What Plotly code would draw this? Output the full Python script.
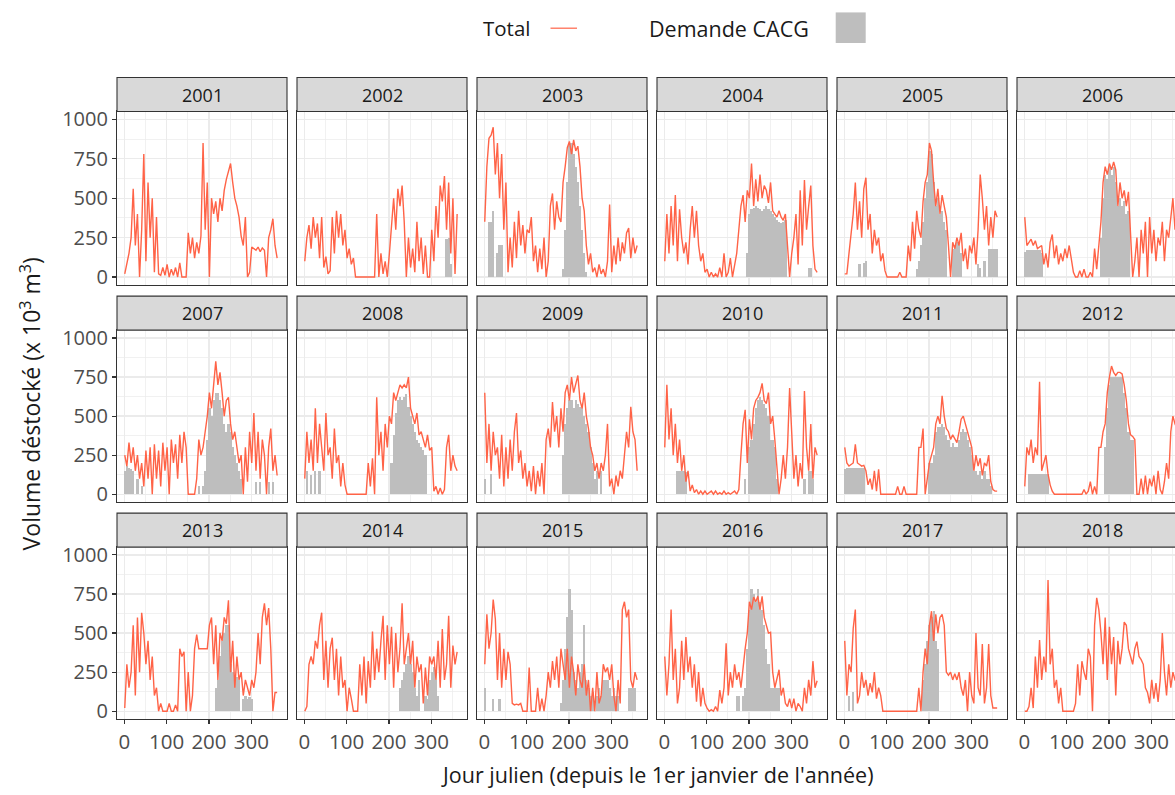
import plotly.graph_objects as go

# sampling days (every 5 days of the year)
DAYS = list(range(1, 366, 5))
YEARS = list(range(2001, 2019))

TOTAL_2001 = [20, 80, 150, 250, 560, 200, 400, 0, 300, 780, 100, 600,
              250, 500, 30, 380, 20, 10, 60, 10, 80, 0, 50, 10,
              60, 0, 90, 0, 0, 0, 280, 150, 250, 120, 220, 150,
              260, 850, 300, 600, 0, 500, 400, 480, 350, 500, 420, 550,
              620, 680, 720, 600, 500, 450, 380, 260, 200, 380, 0, 30,
              190, 180, 170, 190, 160, 185, 170, 0, 250, 300, 370, 200,
              120]
TOTAL_2002 = [100, 250, 330, 180, 380, 250, 340, 120, 380, 60, 130, 20,
              40, 380, 150, 420, 250, 400, 200, 300, 120, 180, 80, 120,
              0, 0, 0, 0, 0, 0, 0, 0, 0, 0, 400, 0,
              150, 20, 100, 0, 150, 350, 500, 300, 560, 450, 580, 350,
              0, 250, 60, 180, 30, 350, 100, 250, 20, 200, 0, 0,
              300, 100, 450, 250, 580, 480, 640, 300, 600, 150, 500, 20,
              400]
TOTAL_2003 = [350, 700, 880, 900, 950, 650, 850, 500, 780, 300, 600, 30,
              250, 60, 350, 120, 420, 200, 330, 150, 300, 280, 380, 100,
              200, 30, 180, 50, 250, 0, 100, 450, 530, 300, 480, 380,
              350, 600, 700, 820, 860, 780, 870, 800, 830, 700, 500, 420,
              200, 80, 150, 30, 60, 0, 80, 20, 50, 0, 100, 460,
              30, 200, 80, 250, 100, 220, 150, 280, 310, 120, 250, 150,
              200]
TOTAL_2004 = [100, 400, 150, 450, 200, 520, 100, 430, 250, 150, 220, 80,
              300, 450, 250, 420, 200, 100, 150, 30, 50, 0, 30, 0,
              20, 0, 60, 0, 150, 0, 30, 120, 0, 80, 150, 300,
              450, 520, 350, 550, 500, 720, 450, 620, 480, 650, 500, 580,
              550, 470, 600, 420, 400, 380, 420, 380, 360, 400, 200, 0,
              150, 250, 400, 80, 550, 200, 615, 300, 450, 580, 200, 50,
              30]
TOTAL_2005 = [20, 20, 150, 280, 400, 600, 300, 480, 250, 560, 630, 300,
              400, 150, 300, 200, 250, 100, 150, 40, 0, 0, 0, 0,
              0, 0, 30, 0, 0, 0, 200, 100, 350, 180, 420, 300,
              250, 480, 600, 650, 850, 800, 600, 450, 560, 400, 520, 450,
              380, 200, 0, 220, 180, 250, 200, 280, 100, 180, 50, 200,
              150, 250, 80, 300, 650, 500, 300, 450, 200, 380, 250, 420,
              380]
TOTAL_2006 = [380, 200, 220, 240, 200, 230, 180, 190, 200, 80, 150, 60,
              220, 270, 120, 200, 80, 150, 100, 180, 120, 200, 100, 30,
              0, 0, 40, 0, 50, 0, 0, 30, 0, 180, 50, 200,
              350, 600, 700, 650, 720, 680, 730, 680, 450, 600, 500, 550,
              450, 540, 300, 0, 100, 250, 0, 300, 150, 350, 0, 380,
              150, 300, 100, 250, 200, 350, 100, 300, 250, 400, 500, 300,
              400]
TOTAL_2007 = [250, 180, 330, 200, 300, 150, 250, 100, 200, 50, 280, 100,
              300, 0, 320, 100, 280, 50, 330, 150, 300, 0, 350, 200,
              320, 100, 380, 200, 400, 300, 0, 0, 0, 0, 100, 350,
              250, 300, 400, 500, 650, 550, 700, 850, 700, 780, 650, 500,
              600, 620, 450, 350, 400, 300, 200, 250, 0, 300, 80, 400,
              200, 520, 150, 400, 100, 350, 250, 0, 300, 420, 150, 250,
              120]
TOTAL_2008 = [100, 400, 200, 350, 150, 550, 200, 450, 300, 150, 520, 250,
              300, 100, 420, 200, 250, 50, 200, 60, 0, 0, 0, 0,
              0, 0, 0, 0, 0, 0, 200, 50, 230, 0, 620, 250,
              400, 150, 450, 300, 500, 450, 650, 600, 650, 700, 680, 700,
              680, 750, 550, 500, 450, 520, 380, 400, 350, 300, 380, 280,
              300, 20, 50, 0, 40, 0, 30, 300, 380, 150, 250, 180,
              150]
TOTAL_2009 = [650, 200, 450, 150, 400, 250, 300, 100, 380, 50, 300, 100,
              350, 150, 400, 520, 200, 280, 100, 200, 50, 150, 20, 180,
              0, 150, 50, 200, 0, 350, 420, 300, 590, 400, 500, 300,
              550, 400, 650, 700, 600, 750, 650, 700, 760, 600, 550, 650,
              500, 420, 300, 250, 150, 200, 100, 200, 150, 250, 450, 50,
              100, 0, 120, 50, 150, 100, 250, 400, 300, 560, 400, 350,
              150]
TOTAL_2010 = [300, 700, 350, 550, 250, 450, 200, 350, 150, 250, 80, 150,
              20, 60, 10, 30, 0, 20, 0, 20, 0, 10, 20, 0,
              20, 0, 10, 0, 20, 0, 10, 0, 10, 20, 0, 30,
              250, 450, 540, 200, 480, 350, 550, 600, 620, 650, 710, 600,
              580, 650, 450, 500, 350, 200, 0, 100, 250, 100, 300, 680,
              400, 100, 250, 50, 200, 100, 660, 300, 150, 450, 100, 300,
              250]
TOTAL_2011 = [300, 200, 180, 190, 200, 320, 200, 190, 180, 185, 150, 60,
              100, 30, 150, 20, 160, 0, 0, 0, 0, 0, 0, 0,
              0, 50, 0, 0, 50, 0, 0, 0, 0, 0, 0, 300,
              300, 420, 0, 100, 200, 250, 300, 450, 500, 450, 630, 500,
              420, 400, 350, 380, 350, 330, 400, 480, 500, 450, 400, 350,
              300, 150, 250, 180, 230, 120, 200, 180, 250, 80, 30, 20,
              20]
TOTAL_2012 = [50, 300, 250, 350, 200, 300, 250, 720, 150, 200, 250, 130,
              60, 20, 0, 0, 0, 0, 0, 0, 0, 0, 0, 0,
              0, 0, 0, 0, 30, 0, 20, 80, 0, 50, 0, 300,
              300, 400, 450, 650, 750, 820, 780, 760, 780, 780, 770, 700,
              600, 450, 380, 370, 350, 0, 0, 100, 0, 120, 0, 100,
              50, 120, 0, 150, 30, 0, 80, 200, 100, 400, 500, 450,
              420]
TOTAL_2013 = [20, 300, 150, 250, 550, 100, 600, 250, 630, 500, 300, 450,
              200, 350, 100, 150, 0, 50, 0, 0, 0, 50, 0, 0,
              40, 0, 400, 350, 380, 0, 250, 0, 100, 400, 490, 400,
              400, 400, 400, 400, 550, 600, 300, 550, 200, 500, 450, 600,
              560, 710, 250, 450, 150, 350, 200, 250, 100, 200, 150, 100,
              200, 150, 250, 500, 300, 600, 690, 550, 660, 400, 0, 120,
              120]
TOTAL_2014 = [0, 30, 300, 350, 300, 450, 400, 550, 630, 200, 450, 150,
              400, 470, 200, 400, 100, 350, 150, 200, 0, 150, 80, 0,
              0, 0, 300, 100, 350, 50, 320, 150, 510, 200, 400, 250,
              450, 610, 200, 550, 300, 540, 150, 500, 250, 400, 690, 300,
              400, 500, 300, 450, 150, 350, 250, 300, 50, 280, 100, 350,
              300, 350, 200, 450, 150, 525, 200, 300, 610, 150, 420, 300,
              380]
TOTAL_2015 = [300, 620, 400, 500, 715, 590, 200, 500, 150, 400, 200, 380,
              300, 50, 40, 45, 40, 50, 0, 0, 0, 280, 0, 0,
              0, 150, 0, 80, 0, 100, 250, 150, 320, 200, 350, 150,
              400, 300, 200, 400, 150, 350, 250, 100, 300, 200, 150, 300,
              100, 200, 0, 150, 0, 250, 50, 100, 300, 250, 280, 200,
              300, 100, 0, 200, 50, 650, 700, 600, 650, 200, 150, 250,
              200]
TOTAL_2016 = [350, 100, 300, 650, 200, 400, 50, 150, 450, 200, 475, 250,
              350, 150, 300, 60, 250, 30, 150, 50, 20, 0, 10, 0,
              30, 0, 135, 50, 150, 435, 100, 250, 150, 300, 200, 250,
              150, 300, 400, 500, 700, 650, 730, 700, 735, 650, 735, 600,
              550, 500, 505, 250, 150, 200, 265, 100, 150, 50, 30, 80,
              20, 80, 0, 50, 30, 0, 150, 50, 200, 100, 320, 150,
              195]
TOTAL_2017 = [450, 100, 300, 250, 530, 650, 50, 100, 250, 150, 200, 100,
              180, 120, 250, 80, 150, 100, 0, 0, 0, 0, 0, 0,
              0, 0, 0, 0, 0, 0, 0, 0, 0, 0, 0, 150,
              0, 250, 400, 300, 550, 640, 450, 620, 500, 600, 620, 550,
              250, 230, 250, 200, 240, 200, 250, 150, 100, 200, 0, 250,
              100, 50, 500, 150, 100, 430, 50, 150, 430, 100, 20, 20,
              20]
TOTAL_2018 = [0, 0, 30, 150, 20, 350, 150, 455, 200, 350, 250, 840,
              300, 400, 150, 200, 50, 150, 0, 0, 0, 0, 0, 0,
              50, 300, 100, 320, 250, 200, 400, 350, 0, 550, 725, 650,
              500, 300, 600, 200, 540, 300, 475, 100, 450, 300, 400, 570,
              550, 400, 350, 300, 400, 445, 350, 330, 300, 150, 120, 50,
              200, 80, 180, 60, 200, 500, 250, 100, 300, 150, 250, 200,
              200]

DEMANDE_2001 = [0, 0, 0, 0, 0, 0, 0, 0, 0, 0, 0, 0,
                0, 0, 0, 0, 0, 0, 0, 0, 0, 0, 0, 0,
                0, 0, 0, 0, 0, 0, 0, 0, 0, 0, 0, 0,
                0, 0, 0, 0, 0, 0, 0, 0, 0, 0, 0, 0,
                0, 0, 0, 0, 0, 0, 0, 0, 0, 0, 0, 0,
                0, 0, 0, 0, 0, 0, 0, 0, 0, 0, 0, 0,
                0]
DEMANDE_2002 = [0, 0, 0, 0, 0, 0, 0, 0, 0, 0, 0, 0,
                0, 0, 0, 0, 0, 0, 0, 0, 0, 0, 0, 0,
                0, 0, 0, 0, 0, 0, 0, 0, 0, 0, 0, 0,
                0, 0, 0, 0, 0, 0, 0, 0, 0, 0, 0, 0,
                0, 0, 0, 0, 0, 0, 0, 0, 0, 0, 0, 0,
                0, 0, 0, 0, 0, 0, 0, 240, 250, 80, 0, 0,
                0]
DEMANDE_2003 = [0, 0, 350, 350, 420, 0, 150, 200, 200, 0, 0, 0,
                0, 0, 0, 0, 0, 0, 0, 0, 0, 0, 0, 0,
                0, 0, 0, 0, 0, 0, 0, 0, 0, 0, 0, 0,
                0, 50, 300, 600, 850, 850, 780, 700, 600, 450, 300, 150,
                30, 0, 0, 0, 0, 0, 0, 0, 0, 0, 0, 0,
                0, 0, 0, 0, 0, 0, 0, 0, 0, 0, 0, 0,
                0]
DEMANDE_2004 = [0, 0, 0, 0, 0, 0, 0, 0, 0, 0, 0, 0,
                0, 0, 0, 0, 0, 0, 0, 0, 0, 0, 0, 0,
                0, 0, 0, 0, 0, 0, 0, 0, 0, 0, 0, 0,
                0, 0, 0, 150, 400, 430, 440, 450, 440, 430, 420, 430,
                450, 430, 420, 400, 380, 360, 350, 340, 350, 360, 0, 0,
                0, 0, 0, 0, 0, 0, 0, 0, 60, 60, 0, 0,
                0]
DEMANDE_2005 = [0, 0, 0, 0, 0, 0, 0, 80, 0, 90, 100, 0,
                0, 0, 0, 0, 0, 0, 0, 0, 0, 0, 0, 0,
                0, 0, 0, 0, 0, 0, 0, 0, 0, 0, 50, 100,
                200, 350, 500, 600, 800, 780, 600, 450, 500, 400, 420, 350,
                300, 0, 0, 180, 200, 220, 200, 150, 0, 0, 0, 0,
                0, 0, 0, 80, 60, 0, 100, 0, 180, 180, 180, 180,
                180]
DEMANDE_2006 = [160, 170, 170, 170, 170, 170, 170, 170, 150, 0, 0, 0,
                0, 0, 0, 0, 0, 0, 0, 0, 0, 0, 0, 0,
                0, 0, 0, 0, 0, 0, 0, 0, 0, 0, 0, 0,
                250, 500, 650, 620, 700, 650, 700, 600, 450, 500, 450, 480,
                400, 420, 0, 0, 0, 0, 0, 0, 0, 0, 0, 0,
                0, 0, 0, 0, 0, 0, 0, 0, 0, 0, 0, 0,
                0]
DEMANDE_2007 = [150, 180, 170, 160, 150, 0, 100, 0, 50, 0, 0, 0,
                0, 0, 0, 0, 0, 0, 0, 0, 0, 0, 0, 0,
                0, 0, 0, 0, 0, 0, 0, 0, 0, 0, 0, 50,
                0, 50, 150, 350, 550, 500, 600, 650, 650, 600, 550, 450,
                400, 450, 400, 300, 250, 200, 150, 100, 0, 0, 0, 0,
                0, 0, 80, 0, 80, 0, 0, 0, 80, 0, 80, 0,
                0]
DEMANDE_2008 = [0, 150, 0, 120, 0, 150, 0, 150, 0, 0, 0, 0,
                0, 0, 0, 0, 0, 0, 0, 0, 0, 0, 0, 0,
                0, 0, 0, 0, 0, 0, 0, 0, 0, 0, 0, 0,
                0, 0, 0, 0, 0, 200, 380, 520, 600, 620, 600, 620,
                640, 560, 500, 450, 400, 350, 330, 300, 280, 250, 0, 0,
                0, 0, 0, 0, 0, 0, 0, 0, 0, 0, 0, 0,
                0]
DEMANDE_2009 = [100, 0, 0, 130, 0, 0, 0, 0, 0, 0, 0, 0,
                0, 0, 0, 0, 0, 0, 0, 0, 0, 0, 0, 0,
                0, 0, 0, 0, 0, 0, 0, 0, 0, 0, 0, 0,
                0, 250, 450, 550, 600, 600, 550, 600, 580, 560, 550, 500,
                450, 400, 300, 200, 100, 150, 0, 150, 0, 0, 0, 0,
                0, 0, 0, 0, 0, 0, 0, 0, 0, 0, 0, 0,
                0]
DEMANDE_2010 = [0, 0, 0, 0, 0, 0, 150, 150, 150, 150, 140, 0,
                0, 0, 0, 0, 0, 0, 0, 0, 0, 0, 0, 0,
                0, 0, 0, 0, 0, 0, 0, 0, 0, 0, 0, 0,
                0, 0, 100, 0, 300, 350, 450, 550, 600, 620, 600, 580,
                550, 500, 350, 350, 300, 100, 0, 0, 0, 0, 0, 0,
                0, 0, 0, 0, 0, 0, 100, 0, 150, 150, 100, 0,
                0]
DEMANDE_2011 = [160, 170, 170, 170, 170, 170, 170, 170, 170, 170, 0, 0,
                0, 0, 0, 0, 0, 0, 0, 0, 0, 0, 0, 0,
                0, 0, 0, 0, 0, 0, 0, 0, 0, 0, 0, 0,
                0, 0, 0, 0, 200, 200, 250, 400, 430, 430, 450, 430,
                380, 350, 300, 330, 300, 300, 350, 400, 420, 400, 350, 300,
                250, 150, 150, 120, 150, 100, 150, 100, 100, 50, 0, 0,
                0]
DEMANDE_2012 = [0, 0, 130, 130, 130, 130, 130, 130, 130, 130, 130, 130,
                0, 0, 0, 0, 0, 0, 0, 0, 0, 0, 0, 0,
                0, 0, 0, 0, 0, 0, 0, 0, 0, 0, 0, 0,
                0, 0, 300, 550, 700, 750, 750, 750, 750, 750, 750, 650,
                550, 400, 350, 350, 0, 0, 0, 0, 0, 0, 0, 0,
                0, 0, 0, 0, 0, 0, 0, 0, 0, 0, 0, 0,
                0]
DEMANDE_2013 = [0, 0, 0, 0, 0, 0, 0, 0, 0, 0, 0, 0,
                0, 0, 0, 0, 0, 0, 0, 0, 0, 0, 0, 0,
                0, 0, 0, 0, 0, 0, 0, 0, 0, 0, 0, 0,
                0, 0, 0, 0, 0, 0, 0, 150, 200, 350, 450, 500,
                550, 550, 300, 250, 200, 220, 200, 0, 80, 100, 80, 90,
                80, 0, 0, 0, 0, 0, 0, 0, 0, 0, 0, 0,
                0]
DEMANDE_2014 = [0, 0, 0, 0, 0, 0, 0, 0, 0, 0, 0, 0,
                0, 0, 0, 0, 0, 0, 0, 0, 0, 0, 0, 0,
                0, 0, 0, 0, 0, 0, 0, 0, 0, 0, 0, 0,
                0, 0, 0, 0, 0, 0, 0, 0, 0, 150, 200, 250,
                300, 350, 300, 250, 150, 100, 200, 0, 0, 100, 80, 200,
                250, 280, 200, 100, 0, 0, 0, 0, 0, 0, 0, 0,
                0]
DEMANDE_2015 = [150, 0, 0, 0, 80, 0, 0, 80, 0, 0, 0, 0,
                0, 0, 0, 0, 0, 0, 0, 0, 0, 0, 0, 0,
                0, 0, 0, 0, 0, 0, 0, 0, 0, 0, 0, 0,
                50, 200, 400, 600, 780, 650, 250, 200, 150, 250, 300, 550,
                200, 150, 100, 120, 0, 100, 150, 100, 200, 200, 200, 150,
                100, 150, 100, 100, 0, 0, 0, 0, 150, 150, 150, 150,
                0]
DEMANDE_2016 = [0, 0, 0, 0, 0, 0, 0, 0, 0, 0, 0, 0,
                0, 0, 0, 0, 0, 0, 0, 0, 0, 0, 0, 0,
                0, 0, 0, 0, 0, 0, 0, 0, 0, 0, 100, 100,
                0, 100, 150, 400, 650, 780, 750, 700, 780, 700, 650, 550,
                400, 300, 150, 150, 150, 150, 150, 0, 0, 0, 0, 0,
                0, 0, 0, 0, 0, 0, 0, 0, 0, 0, 0, 0,
                0]
DEMANDE_2017 = [0, 0, 100, 0, 120, 0, 0, 0, 0, 0, 0, 0,
                0, 0, 0, 0, 0, 0, 0, 0, 0, 0, 0, 0,
                0, 0, 0, 0, 0, 0, 0, 0, 0, 0, 0, 0,
                0, 200, 300, 450, 550, 600, 640, 450, 400, 0, 0, 0,
                0, 0, 0, 0, 0, 0, 0, 0, 0, 0, 0, 0,
                0, 0, 0, 0, 0, 0, 0, 0, 0, 0, 0, 0,
                0]
DEMANDE_2018 = [0, 0, 0, 0, 0, 0, 0, 0, 0, 0, 0, 0,
                0, 0, 0, 0, 0, 0, 0, 0, 0, 0, 0, 0,
                0, 0, 0, 0, 0, 0, 0, 0, 0, 0, 0, 0,
                0, 0, 0, 0, 0, 0, 0, 0, 0, 0, 0, 0,
                0, 0, 0, 0, 0, 0, 0, 0, 0, 0, 0, 0,
                0, 0, 0, 0, 0, 0, 0, 0, 0, 0, 0, 0,
                0]

X_TICKS = [0, 100, 200, 300]
Y_TICKS = [0, 250, 500, 750, 1000]

TOTAL = {y: globals()["TOTAL_%d" % y] for y in YEARS}
DEMANDE = {y: globals()["DEMANDE_%d" % y] for y in YEARS}
for y in YEARS:
    assert len(TOTAL[y]) == len(DAYS), ("total", y, len(TOTAL[y]))
    assert len(DEMANDE[y]) == len(DAYS), ("demande", y, len(DEMANDE[y]))

# ---- layout geometry (pixels) ----
W, H = 1200, 795
COL_LEFT = [117, 297, 477, 657, 837, 1017]
PW = 170
ROW_TOP = [107.0, 328.7, 548.7]
PH = 174.3
STRIP_H = 34.5
FONT = "Open Sans"
LINE_COL = "#FF6347"
BAR_COL = "#BEBEBE"
BORDER = "#333333"
GRID = "#EBEBEB"


def px(x):
    return x / W


def py(y):
    return 1 - y / H


fig = go.Figure()
layout = dict(
    width=W, height=H,
    margin=dict(l=0, r=0, t=0, b=0),
    paper_bgcolor="white", plot_bgcolor="white",
    showlegend=False,
    font=dict(family=FONT, color="#1A1A1A"),
    shapes=[], annotations=[],
)

for k, yr in enumerate(YEARS):
    r, c = divmod(k, 6)
    sfx = "" if k == 0 else str(k + 1)
    ph = PH + (1.5 if r == 0 else 0)
    xd = [px(COL_LEFT[c]), px(COL_LEFT[c] + PW)]
    yd = [py(ROW_TOP[r] + ph), py(ROW_TOP[r])]
    bottom = (r == 2)
    left = (c == 0)
    layout["xaxis" + sfx] = dict(
        domain=xd, anchor="y" + sfx, range=[-17.3, 384.3],
        tickmode="array", tickvals=X_TICKS, ticktext=[str(v) for v in X_TICKS],
        showticklabels=bottom, ticks="outside" if bottom else "",
        ticklen=4, tickwidth=1.1, tickcolor=BORDER,
        tickfont=dict(family=FONT, size=20.5, color="#4D4D4D"),
        showgrid=True, gridcolor=GRID, gridwidth=1.2,
        minor=dict(tickvals=[50, 150, 250, 350], showgrid=True,
                   gridcolor=GRID, gridwidth=0.7, ticks=""),
        zeroline=False, showline=True, mirror=True,
        linecolor=BORDER, linewidth=1.1, fixedrange=True,
    )
    layout["yaxis" + sfx] = dict(
        domain=yd, anchor="x" + sfx, range=[-50, 1050],
        tickmode="array", tickvals=Y_TICKS, ticktext=[str(v) for v in Y_TICKS],
        showticklabels=left, ticks="outside" if left else "",
        ticklen=4, tickwidth=1.1, tickcolor=BORDER,
        tickfont=dict(family=FONT, size=20, color="#4D4D4D"),
        showgrid=True, gridcolor=GRID, gridwidth=1.2,
        minor=dict(tickvals=[125, 375, 625, 875], showgrid=True,
                   gridcolor=GRID, gridwidth=0.7, ticks=""),
        zeroline=False, showline=True, mirror=True,
        linecolor=BORDER, linewidth=1.1, fixedrange=True,
    )
    # strip
    layout["shapes"].append(dict(
        type="rect", xref="paper", yref="paper",
        x0=xd[0], x1=xd[1], y0=yd[1], y1=py(ROW_TOP[r] - STRIP_H),
        fillcolor="#D9D9D9", line=dict(color=BORDER, width=1.1), layer="above"))
    layout["annotations"].append(dict(
        xref="paper", yref="paper", x=(xd[0] + xd[1]) / 2,
        y=py(ROW_TOP[r] - STRIP_H / 2), text=str(yr), showarrow=False,
        xanchor="center", yanchor="middle",
        font=dict(family=FONT, size=18, color="#1A1A1A")))

    fig.add_trace(go.Bar(
        x=DAYS, y=DEMANDE[yr], width=5.4, name="Demande CACG",
        marker=dict(color=BAR_COL, line=dict(width=0)),
        xaxis="x" + sfx, yaxis="y" + sfx, hoverinfo="skip"))
    fig.add_trace(go.Scatter(
        x=DAYS, y=TOTAL[yr], mode="lines", name="Total",
        line=dict(color=LINE_COL, width=1.4),
        xaxis="x" + sfx, yaxis="y" + sfx, hoverinfo="skip"))

# manual legend (text before key, as in the original)
LEG_Y = 22.5
layout["annotations"].append(dict(
    xref="paper", yref="paper", x=px(481), y=py(LEG_Y), text="Total",
    showarrow=False, xanchor="left", yanchor="middle",
    font=dict(family=FONT, size=20.5, color="#1A1A1A")))
layout["shapes"].append(dict(
    type="line", xref="paper", yref="paper",
    x0=px(550.5), x1=px(577), y0=py(LEG_Y), y1=py(LEG_Y),
    line=dict(color=LINE_COL, width=1.2)))
layout["annotations"].append(dict(
    xref="paper", yref="paper", x=px(647), y=py(LEG_Y), text="Demande CACG",
    showarrow=False, xanchor="left", yanchor="middle",
    font=dict(family=FONT, size=21.5, color="#1A1A1A")))
layout["shapes"].append(dict(
    type="rect", xref="paper", yref="paper",
    x0=px(835.7), x1=px(865.7), y0=py(37.5), y1=py(6.5),
    fillcolor=BAR_COL, line=dict(width=0)))

# axis titles
layout["annotations"].append(dict(
    xref="paper", yref="paper", x=px(31), y=py(404),
    text="Volume déstocké (x 10<sup>3</sup> m<sup>3</sup>)", textangle=-90,
    showarrow=False, xanchor="center", yanchor="middle",
    font=dict(family=FONT, size=23, color="#1A1A1A")))
layout["annotations"].append(dict(
    xref="paper", yref="paper", x=px(657), y=py(779),
    text="Jour julien (depuis le 1er janvier de l'année)",
    showarrow=False, xanchor="center", yanchor="middle",
    font=dict(family=FONT, size=21.5, color="#1A1A1A")))

fig.update_layout(**layout)
fig.update_layout(bargap=0, barmode="overlay")

POST = (
    "document.documentElement.style.margin='0';"
    "document.body.style.margin='0';document.body.style.padding='0';"
    "document.body.style.overflow='hidden';"
    "var g=document.getElementsByClassName('plotly-graph-div')[0];"
    "g.style.position='absolute';g.style.top='0px';g.style.left='0px';"
)

fig.write_html(
    "out.html",
    config=dict(displayModeBar=False, staticPlot=True),
    post_script=POST,
)
